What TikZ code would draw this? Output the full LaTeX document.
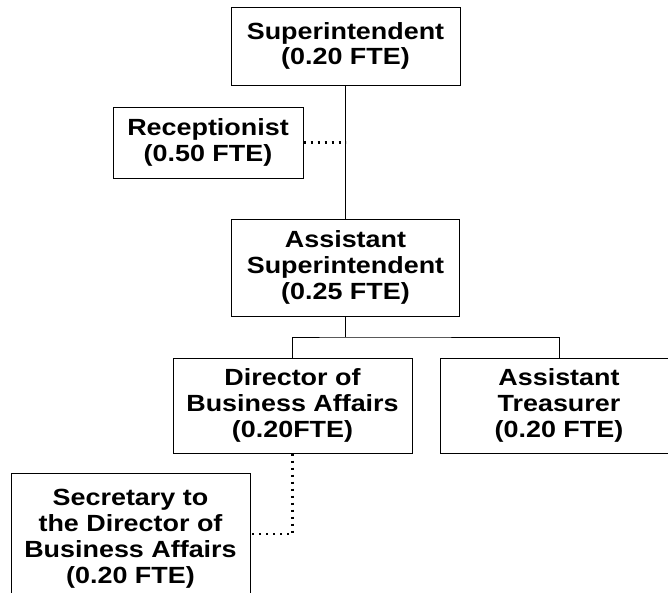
\documentclass[tikz,border=0pt]{standalone}
\usepackage{fontspec}
\setmainfont{Liberation Sans}[FakeStretch=1.15]
\usetikzlibrary{positioning,calc}

\begin{document}
\begin{tikzpicture}[
    x=1pt, y=-1pt,
    every node/.style={font=\fontsize{23.4}{25.8}\selectfont\bfseries},
    post/.style={draw, line width=1pt, align=center, inner sep=0pt},
    link/.style={line width=1pt},
    weak/.style={line width=2.2pt, dash pattern=on 2.2pt off 4.8pt}
]

%======================
% Page
%======================

\useasboundingbox (0,0) rectangle (668,592);
\clip (0,0) rectangle (668,592);

%======================
% Posts
%======================

\node[post, minimum width=229pt, minimum height=78pt] (sup) at (345.5,46)
    {Superintendent\\(0.20 FTE)};
\node[post, minimum width=190pt, minimum height=71pt] (rec) at (208,142.5)
    {Receptionist\\(0.50 FTE)};
\node[post, minimum width=228pt, minimum height=97pt] (asup) at (345.5,267.5)
    {Assistant\\Superintendent\\(0.25 FTE)};
\node[post, minimum width=239pt, minimum height=95pt] (dir) at (292.5,405.5)
    {Director of\\Business Affairs\\(0.20FTE)};
\node[post, minimum width=238pt, minimum height=95pt] (tre) at (559,405.5)
    {Assistant\\Treasurer\\(0.20 FTE)};
\node[post, minimum width=239pt, inner ysep=16pt, text depth=130pt,
      anchor=north] (sec) at (130.5,473)
    {Secretary to\\the Director of\\Business Affairs\\(0.20 FTE)};

%======================
% Connectors
%======================

\coordinate (bus)   at (345.5,337);
\coordinate (secin) at (250,534);

% Solid reporting lines
\draw[link] (sup.south) -- (asup.north);
\draw[link] (asup.south) -- (bus);
\draw[link] (dir.north) |- (bus) -| (tre.north);

% Dotted support lines
\draw[weak] (rec.east) -- (rec.east -| sup.south);
\draw[weak] (dir.south) |- (secin);

\end{tikzpicture}
\end{document}
